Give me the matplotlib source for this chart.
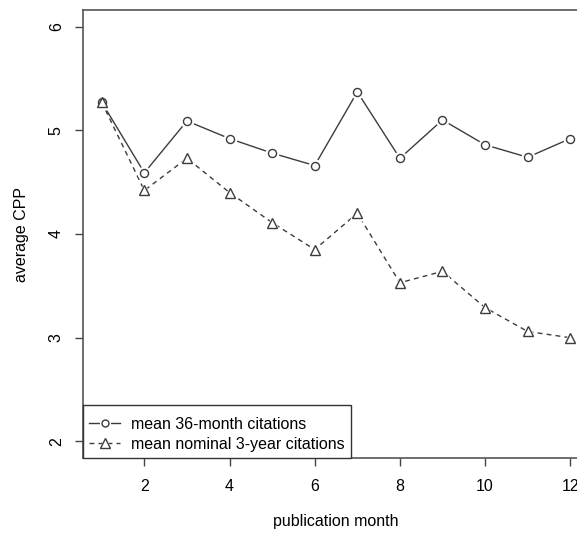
import matplotlib
matplotlib.use("Agg")
import matplotlib.pyplot as plt
from matplotlib.lines import Line2D

months = [1, 2, 3, 4, 5, 6, 7, 8, 9, 10, 11, 12]
mean_36_month = [5.27, 4.59, 5.09, 4.92, 4.78, 4.66, 5.37, 4.73, 5.10, 4.86, 4.74, 4.92]
mean_nominal_3yr = [5.27, 4.42, 4.73, 4.40, 4.11, 3.85, 4.20, 3.53, 3.64, 3.29, 3.06, 3.00]
labels = ["mean 36-month citations", "mean nominal 3-year citations"]
xticks = [2, 4, 6, 8, 10, 12]
yticks = [2, 3, 4, 5, 6]

plt.rcParams['font.family'] = ['Liberation Sans', 'DejaVu Sans']
FS = 11.5
W, H = 577, 533
fig = plt.figure(figsize=(W / 100, H / 100), dpi=100)
left, right, top, bottom = 83, 589, 10, 458
ax = fig.add_axes([left / W, (H - bottom) / H, (right - left) / W, (bottom - top) / H])

lc = '#3c3c3c'
# series 1: solid with open circles (gaps around points)
ax.plot(months, mean_36_month, '-', color=lc, lw=1.0, zorder=2)
ax.plot(months, mean_36_month, 'o', ms=10, mfc='white', mec='none', zorder=3)
ax.plot(months, mean_36_month, 'o', ms=5.8, mfc='white', mec=lc, mew=1.0, zorder=4)
# series 2: dashed with open triangles
ax.plot(months, mean_nominal_3yr, '-', color=lc, lw=1.0, dashes=(3.5, 3), zorder=2)
ax.plot(months, mean_nominal_3yr, '^', ms=12, mfc='white', mec='none', zorder=3)
ax.plot(months, mean_nominal_3yr, '^', ms=7.5, mfc='white', mec=lc, mew=1.0, zorder=4)

ax.set_xlim(0.56, 12.44)
ax.set_ylim(1.84, 6.16)
ax.set_xticks(xticks)
ax.set_yticks(yticks)
ax.tick_params(axis='both', length=5.8, width=1, color='#444444', labelsize=FS)
ax.tick_params(axis='x', pad=9)
ax.tick_params(axis='y', pad=8)
for lab in ax.get_yticklabels():
    lab.set_rotation(90)
    lab.set_va('center')
for s in ax.spines.values():
    s.set_color('#555555')
    s.set_linewidth(1.2)

ax.set_xlabel('publication month', fontsize=FS, labelpad=15)
ax.set_ylabel('average CPP', fontsize=FS, labelpad=14)

h1 = (Line2D([], [], color=lc, lw=1.0),
      Line2D([], [], marker='o', ms=8, mfc='white', mec='none', ls='none'),
      Line2D([], [], marker='o', ms=5, mfc='white', mec=lc, mew=1.0, ls='none'))
h2 = (Line2D([], [], color=lc, lw=1.0, dashes=(3.5, 3)),
      Line2D([], [], marker='^', ms=10, mfc='white', mec='none', ls='none'),
      Line2D([], [], marker='^', ms=6.5, mfc='white', mec=lc, mew=1.0, ls='none'))
leg = ax.legend([h1, h2], labels, loc='lower left', bbox_to_anchor=(0, 0),
                borderaxespad=0, fancybox=False, fontsize=FS, handlelength=1.9,
                handletextpad=0.7, labelspacing=0.3, borderpad=0.4,
                framealpha=1, title=' ', title_fontsize=1.5)
leg.get_frame().set_edgecolor('#333333')
leg.get_frame().set_linewidth(1.0)

fig.savefig('out.png', dpi=100)
